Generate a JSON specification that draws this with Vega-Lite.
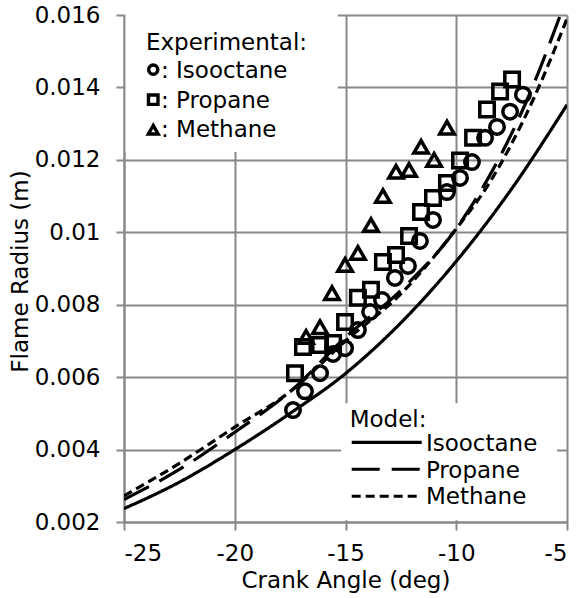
{
  "$schema": "https://vega.github.io/schema/vega-lite/v6.json",
  "width": 443,
  "height": 507,
  "autosize": {"type": "none"},
  "padding": {"left": 124, "top": 15, "right": 14, "bottom": 76},
  "background": "white",
  "config": {
    "view": {"stroke": null},
    "font": "DejaVu Sans",
    "axis": {
      "grid": true,
      "gridColor": "#888888",
      "gridWidth": 2,
      "domainColor": "#888888",
      "domainWidth": 2,
      "tickColor": "#888888",
      "tickWidth": 2,
      "tickSize": 8,
      "labelFont": "DejaVu Sans",
      "labelFontSize": 23,
      "labelColor": "black",
      "titleFont": "DejaVu Sans",
      "titleFontSize": 23,
      "titleFontWeight": "normal",
      "titleColor": "black"
    }
  },
  "datasets": {
    "model": [
      {"fuel": "Isooctane", "x": -25, "y": 0.00237},
      {"fuel": "Isooctane", "x": -22.5, "y": 0.0031},
      {"fuel": "Isooctane", "x": -20, "y": 0.0040},
      {"fuel": "Isooctane", "x": -17.5, "y": 0.0050},
      {"fuel": "Isooctane", "x": -15, "y": 0.0061},
      {"fuel": "Isooctane", "x": -12.5, "y": 0.0075},
      {"fuel": "Isooctane", "x": -10, "y": 0.0092},
      {"fuel": "Isooctane", "x": -7.5, "y": 0.0112},
      {"fuel": "Isooctane", "x": -5, "y": 0.01352},
      {"fuel": "Propane", "x": -25, "y": 0.00262},
      {"fuel": "Propane", "x": -22.5, "y": 0.00345},
      {"fuel": "Propane", "x": -20, "y": 0.00448},
      {"fuel": "Propane", "x": -17.5, "y": 0.0056},
      {"fuel": "Propane", "x": -15, "y": 0.0071},
      {"fuel": "Propane", "x": -12.5, "y": 0.0084},
      {"fuel": "Propane", "x": -10, "y": 0.0101},
      {"fuel": "Propane", "x": -8.6, "y": 0.01145},
      {"fuel": "Propane", "x": -6.8, "y": 0.01366},
      {"fuel": "Propane", "x": -5.3, "y": 0.0160},
      {"fuel": "Methane", "x": -25, "y": 0.00272},
      {"fuel": "Methane", "x": -22.5, "y": 0.00362},
      {"fuel": "Methane", "x": -20, "y": 0.00462},
      {"fuel": "Methane", "x": -17.5, "y": 0.0056},
      {"fuel": "Methane", "x": -15, "y": 0.0070},
      {"fuel": "Methane", "x": -12.5, "y": 0.0083},
      {"fuel": "Methane", "x": -10, "y": 0.0101},
      {"fuel": "Methane", "x": -8.6, "y": 0.01127},
      {"fuel": "Methane", "x": -6.5, "y": 0.0137},
      {"fuel": "Methane", "x": -5, "y": 0.0159}
    ],
    "exp": [
      {"fuel": "Isooctane", "x": -17.37, "y": 0.00509},
      {"fuel": "Isooctane", "x": -16.83, "y": 0.00561},
      {"fuel": "Isooctane", "x": -16.15, "y": 0.00611},
      {"fuel": "Isooctane", "x": -15.56, "y": 0.00664},
      {"fuel": "Isooctane", "x": -15.02, "y": 0.0068},
      {"fuel": "Isooctane", "x": -14.44, "y": 0.0073},
      {"fuel": "Isooctane", "x": -13.89, "y": 0.0078},
      {"fuel": "Isooctane", "x": -13.35, "y": 0.00813},
      {"fuel": "Isooctane", "x": -12.77, "y": 0.00874},
      {"fuel": "Isooctane", "x": -12.18, "y": 0.00907},
      {"fuel": "Isooctane", "x": -11.64, "y": 0.00976},
      {"fuel": "Isooctane", "x": -11.05, "y": 0.01034},
      {"fuel": "Isooctane", "x": -10.42, "y": 0.01111},
      {"fuel": "Isooctane", "x": -9.83, "y": 0.0115},
      {"fuel": "Isooctane", "x": -9.29, "y": 0.01194},
      {"fuel": "Isooctane", "x": -8.7, "y": 0.01261},
      {"fuel": "Isooctane", "x": -8.16, "y": 0.01291},
      {"fuel": "Isooctane", "x": -7.57, "y": 0.01333},
      {"fuel": "Isooctane", "x": -6.99, "y": 0.0138},
      {"fuel": "Propane", "x": -17.28, "y": 0.00611},
      {"fuel": "Propane", "x": -16.92, "y": 0.00683},
      {"fuel": "Propane", "x": -16.15, "y": 0.00689},
      {"fuel": "Propane", "x": -15.56, "y": 0.00694},
      {"fuel": "Propane", "x": -15.02, "y": 0.00752},
      {"fuel": "Propane", "x": -14.44, "y": 0.00819},
      {"fuel": "Propane", "x": -13.85, "y": 0.00841},
      {"fuel": "Propane", "x": -13.31, "y": 0.00918},
      {"fuel": "Propane", "x": -12.72, "y": 0.00937},
      {"fuel": "Propane", "x": -12.13, "y": 0.0099},
      {"fuel": "Propane", "x": -11.59, "y": 0.01056},
      {"fuel": "Propane", "x": -11.05, "y": 0.01095},
      {"fuel": "Propane", "x": -10.42, "y": 0.01136},
      {"fuel": "Propane", "x": -9.83, "y": 0.01198},
      {"fuel": "Propane", "x": -9.24, "y": 0.01261},
      {"fuel": "Propane", "x": -8.61, "y": 0.01339},
      {"fuel": "Propane", "x": -8.02, "y": 0.01389},
      {"fuel": "Propane", "x": -7.48, "y": 0.01422},
      {"fuel": "Methane", "x": -16.78, "y": 0.00711},
      {"fuel": "Methane", "x": -16.15, "y": 0.00738},
      {"fuel": "Methane", "x": -15.61, "y": 0.00832},
      {"fuel": "Methane", "x": -15.02, "y": 0.0091},
      {"fuel": "Methane", "x": -14.44, "y": 0.00943},
      {"fuel": "Methane", "x": -13.85, "y": 0.0102},
      {"fuel": "Methane", "x": -13.31, "y": 0.011},
      {"fuel": "Methane", "x": -12.72, "y": 0.01167},
      {"fuel": "Methane", "x": -12.13, "y": 0.01172},
      {"fuel": "Methane", "x": -11.59, "y": 0.01236},
      {"fuel": "Methane", "x": -11.0, "y": 0.012},
      {"fuel": "Methane", "x": -10.42, "y": 0.01289}
    ],
    "boxes": [
      {"x": -24.93, "x2": -15.35, "y": 0.01222, "y2": 0.01605},
      {"x": -15.2, "x2": -5.45, "y": 0.00205, "y2": 0.00528}
    ],
    "legendMarkers": [
      {"fuel": "Isooctane", "x": -23.68, "y": 0.014492},
      {"fuel": "Propane", "x": -23.68, "y": 0.013662},
      {"fuel": "Methane", "x": -23.68, "y": 0.012832}
    ],
    "legendLines": [
      {"fuel": "Isooctane", "x": -14.72, "x2": -11.56, "y": 0.0042},
      {"fuel": "Propane", "x": -14.72, "x2": -11.56, "y": 0.003457},
      {"fuel": "Methane", "x": -14.72, "x2": -11.56, "y": 0.002711}
    ],
    "labels": [
      {"label": "Experimental:", "x": -24.01, "y": 0.015045},
      {"label": ":", "x": -23.33, "y": 0.014257},
      {"label": "Isooctane", "x": -22.65, "y": 0.014257},
      {"label": ":", "x": -23.33, "y": 0.013441},
      {"label": "Propane", "x": -22.65, "y": 0.013441},
      {"label": ":", "x": -23.33, "y": 0.012625},
      {"label": "Methane", "x": -22.65, "y": 0.012625},
      {"label": "Model:", "x": -14.81, "y": 0.004633},
      {"label": "Isooctane", "x": -11.37, "y": 0.003969},
      {"label": "Propane", "x": -11.37, "y": 0.003222},
      {"label": "Methane", "x": -11.37, "y": 0.00249}
    ]
  },
  "encoding": {
    "x": {
      "field": "x",
      "type": "quantitative",
      "scale": {"domain": [-25, -5], "nice": false, "zero": false},
      "axis": {
        "values": [-25, -20, -15, -10, -5],
        "title": "Crank Angle (deg)",
        "labelExpr": "datum.value < 0 ? '-' + abs(datum.value) : '' + datum.value",
        "labelPadding": 12,
        "titleBaseline": "alphabetic",
        "titleY": 65
      }
    },
    "y": {
      "field": "y",
      "type": "quantitative",
      "scale": {"domain": [0.002, 0.016], "nice": false, "zero": false},
      "axis": {
        "values": [0.002, 0.004, 0.006, 0.008, 0.01, 0.012, 0.014, 0.016],
        "format": ".3f",
        "labelExpr": "datum.value == 0.01 ? '0.01' : format(datum.value, '.3f')",
        "labelPadding": 16,
        "title": "Flame Radius (m)",
        "titleAngle": 270,
        "titleBaseline": "middle",
        "titleX": -104,
        "titleY": 256
      }
    }
  },
  "resolve": {"scale": {"size": "independent"}},
  "layer": [
    {
      "data": {"name": "boxes"},
      "mark": {"type": "rect", "color": "white"},
      "encoding": {"x2": {"field": "x2"}, "y2": {"field": "y2"}}
    },
    {
      "data": {"name": "model"},
      "mark": {"type": "line", "color": "black", "strokeWidth": 3.2, "interpolate": "monotone", "clip": true},
      "encoding": {
        "strokeDash": {
          "field": "fuel",
          "type": "nominal",
          "scale": {"domain": ["Isooctane", "Propane", "Methane"], "range": [[1, 0], [28, 12], [9, 5]]},
          "legend": null
        }
      }
    },
    {
      "data": {"name": "exp"},
      "mark": {"type": "point", "filled": false, "color": "black", "strokeWidth": 3.5, "opacity": 1},
      "encoding": {
        "shape": {
          "field": "fuel",
          "type": "nominal",
          "scale": {"domain": ["Isooctane", "Propane", "Methane"], "range": ["circle", "square", "triangle-up"]},
          "legend": null
        },
        "size": {
          "field": "fuel",
          "type": "nominal",
          "scale": {"domain": ["Isooctane", "Propane", "Methane"], "range": [210, 210, 580]},
          "legend": null
        }
      }
    },
    {
      "data": {"name": "legendMarkers"},
      "mark": {"type": "point", "filled": false, "color": "black", "strokeWidth": 3.4, "opacity": 1},
      "encoding": {
        "shape": {"field": "fuel", "type": "nominal", "legend": null},
        "size": {
          "field": "fuel",
          "type": "nominal",
          "scale": {"domain": ["Isooctane", "Propane", "Methane"], "range": [85, 95, 200]},
          "legend": null
        }
      }
    },
    {
      "data": {"name": "legendLines"},
      "mark": {"type": "rule", "color": "black", "strokeWidth": 3.2},
      "encoding": {
        "x2": {"field": "x2"},
        "strokeDash": {"field": "fuel", "type": "nominal", "legend": null}
      }
    },
    {
      "data": {"name": "labels"},
      "mark": {"type": "text", "align": "left", "baseline": "alphabetic", "font": "DejaVu Sans", "fontSize": 23, "color": "black"},
      "encoding": {"text": {"field": "label"}}
    }
  ]
}
